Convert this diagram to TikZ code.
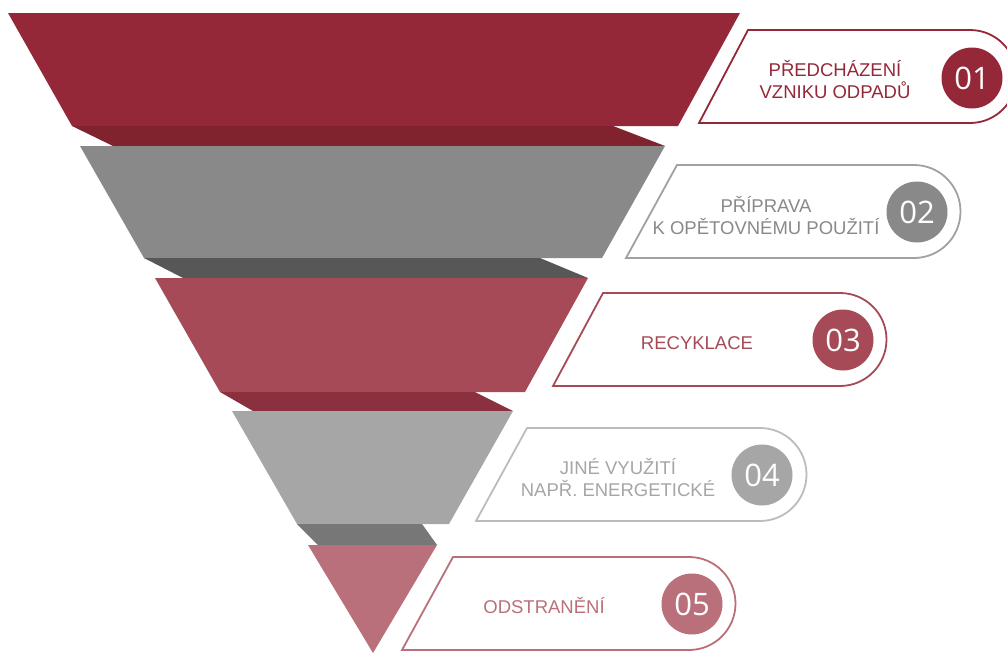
\documentclass[tikz,border=0pt]{standalone}
\usepackage{fontspec}
\usepackage{tikz}
\setmainfont{Liberation Sans}
\newfontfamily\numfont{Open Sans}
\usetikzlibrary{calc}

\definecolor{redA}{HTML}{952838}
\definecolor{redAshade}{HTML}{80232F}
\definecolor{greyB}{HTML}{898989}
\definecolor{greyBshade}{HTML}{575757}
\definecolor{redC}{HTML}{A54A56}
\definecolor{redCshade}{HTML}{8A303E}
\definecolor{greyD}{HTML}{A6A6A6}
\definecolor{greyDshade}{HTML}{777777}
\definecolor{redE}{HTML}{BA707A}

\begin{document}
\begin{tikzpicture}[x=1pt, y=-1pt,
	tab/.style={line width=1.8pt, fill=white},
	numdisc/.style={circle, inner sep=0pt, minimum size=61pt, text=white, font=\numfont\fontsize{31}{31}\selectfont},
	tabtext/.style={align=center, font=\fontsize{18.5}{22}\selectfont}]
\useasboundingbox (0,0) rectangle (1007,653);
\pgfmathsetmacro{\tabR}{46.5}

% Draw funnel
\fill[redA] (8,13) -- (740,13) -- (678,126) -- (72,126) -- cycle;
\fill[redAshade] (72,126) -- (613,126) -- (665,146) -- (113,146) -- cycle;
\fill[greyB] (80,146) -- (665,146) -- (602,258) -- (144,258) -- cycle;
\fill[greyBshade] (144,258) -- (540,258) -- (588,278) -- (183,278) -- cycle;
\fill[redC] (155,278) -- (588,278) -- (525,392) -- (220,392) -- cycle;
\fill[redCshade] (220,392) -- (475,392) -- (513,411) -- (253,411) -- cycle;
\fill[greyD] (232,411) -- (513,411) -- (449,524) -- (297,524) -- cycle;
\fill[greyDshade] (297,524) -- (422,524) -- (437,545) -- (318,545) -- cycle;
\fill[redE] (308,545) -- (437,545) -- (373,653) -- cycle;

% Draw tabs
\draw[tab, draw=redA] (699,123) -- (748,30) -- (970,30) arc[start angle=-90, end angle=90, radius=\tabR] -- cycle;
\draw[tab, draw=greyB!80] (626,258) -- (677,165) -- (914,165) arc[start angle=-90, end angle=90, radius=\tabR] -- cycle;
\draw[tab, draw=redC] (553,386) -- (603,293) -- (840,293) arc[start angle=-90, end angle=90, radius=\tabR] -- cycle;
\draw[tab, draw=greyD!75] (476,521) -- (527,428) -- (760,428) arc[start angle=-90, end angle=90, radius=\tabR] -- cycle;
\draw[tab, draw=redE] (402,650) -- (453,557) -- (689,557) arc[start angle=-90, end angle=90, radius=\tabR] -- cycle;

% Numbers
\node[numdisc, fill=redA] (n1) at (972,78) {01};
\node[numdisc, fill=greyB] (n2) at (917,212) {02};
\node[numdisc, fill=redC] (n3) at (843,340) {03};
\node[numdisc, fill=greyD] (n4) at (762,475) {04};
\node[numdisc, fill=redE] (n5) at (692,604) {05};

% Labels
\node[tabtext, text=redA] (t1) at (835,80) {PŘEDCHÁZENÍ\\VZNIKU ODPADŮ};
\node[tabtext, text=greyB] (t2) at (766,216) {PŘÍPRAVA\\K OPĚTOVNÉMU POUŽITÍ};
\node[tabtext, text=redC] (t3) at (697,343) {RECYKLACE};
\node[tabtext, text=greyD] (t4) at (618,478) {JINÉ VYUŽITÍ\\NAPŘ. ENERGETICKÉ};
\node[tabtext, text=redE] (t5) at (544,605) {ODSTRANĚNÍ};
\end{tikzpicture}
\end{document}
